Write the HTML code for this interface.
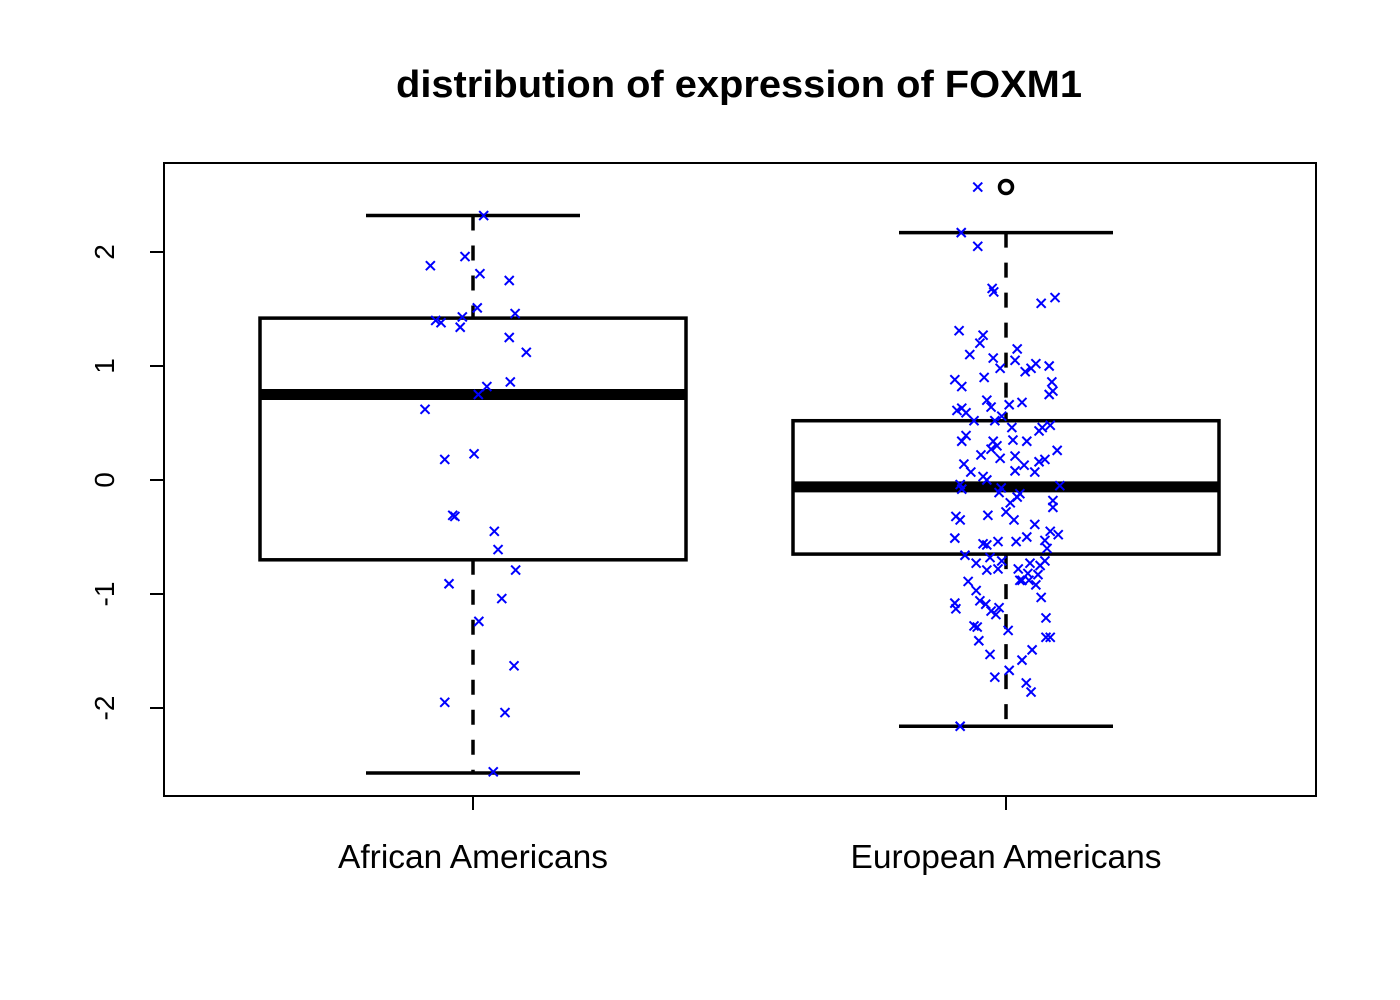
<!DOCTYPE html>
<html><head><meta charset="utf-8"><style>
html,body{margin:0;padding:0;background:#fff;}
svg{display:block;font-family:"Liberation Sans",Arial,sans-serif;}
</style></head><body>
<svg id="chart" width="1400" height="1000" viewBox="0 0 1400 1000">
<text x="739" y="97" text-anchor="middle" font-size="38" font-weight="bold" textLength="686" lengthAdjust="spacingAndGlyphs">distribution of expression of FOXM1</text>
<rect x="164" y="163" width="1152" height="633" fill="none" stroke="#000" stroke-width="2"/>
<g id="marks"></g>
</svg>
<script>
const groups = ["African Americans", "European Americans"];
const yTicks = [-2, -1, 0, 1, 2];
const whiskLo = [-2.57, -2.16];
const q1 = [-0.70, -0.65];
const medians = [0.75, -0.06];
const q3 = [1.42, 0.52];
const whiskHi = [2.32, 2.17];
const outlierGroup = [2];
const outlierVal = [2.57];

const afrY = [2.32,1.88,1.96,1.81,1.75,1.40,1.38,1.34,1.43,1.51,1.46,1.25,1.12,0.82,0.75,0.86,0.62,0.18,0.23,-0.31,-0.32,-0.45,-0.61,-0.79,-0.91,-1.04,-1.24,-1.63,-1.95,-2.04,-2.56];
const afrJ = [0.02,-0.08,-0.015,0.013,0.068,-0.07,-0.06,-0.024,-0.02,0.008,0.079,0.068,0.1,0.026,0.01,0.07,-0.09,-0.053,0.002,-0.038,-0.034,0.04,0.047,0.08,-0.045,0.054,0.011,0.077,-0.053,0.06,0.038];
const eurY = [2.57,2.17,2.05,1.68,1.65,1.60,1.55,1.31,1.27,1.20,1.15,1.10,0.98,1.02,1.00,1.07,1.05,0.95,0.98,0.88,0.82,0.90,0.86,0.78,0.75,0.63,0.61,0.59,0.70,0.64,0.68,0.66,0.56,0.52,0.52,0.48,0.46,0.43,0.46,0.39,0.34,0.34,0.34,0.35,0.30,0.27,0.26,0.18,0.21,0.22,0.19,0.13,0.16,0.07,0.07,0.14,0.08,0.03,0,-0.04,-0.08,-0.07,-0.11,-0.05,-0.12,-0.15,-0.18,-0.24,-0.20,-0.32,-0.35,-0.31,-0.28,-0.35,-0.39,-0.45,-0.48,-0.50,-0.53,-0.51,-0.54,-0.54,-0.56,-0.57,-0.60,-0.66,-0.68,-0.71,-0.73,-0.75,-0.78,-0.71,-0.83,-0.82,-0.88,-0.88,-0.73,-0.79,-0.78,-0.89,-0.92,-1.03,-0.88,-0.97,-1.06,-1.08,-1.13,-1.09,-1.12,-1.18,-1.15,-1.21,-1.29,-1.28,-1.32,-1.41,-1.38,-1.38,-1.53,-1.49,-1.58,-1.67,-1.73,-1.78,-1.86,-2.16];
const eurJ = [-0.053,-0.084,-0.053,-0.026,-0.023,0.092,0.066,-0.088,-0.043,-0.049,0.021,-0.068,-0.011,0.056,0.081,-0.024,0.017,0.036,0.047,-0.096,-0.083,-0.041,0.086,0.088,0.081,-0.083,-0.092,-0.075,-0.036,-0.028,0.03,0.006,-0.008,-0.06,-0.021,0.083,0.068,0.062,0.011,-0.075,-0.083,-0.024,0.039,0.013,-0.017,-0.028,0.096,0.073,0.017,-0.047,-0.011,0.034,0.062,0.054,-0.066,-0.079,0.017,-0.043,-0.036,-0.086,-0.083,-0.009,-0.013,0.101,0.026,0.021,0.088,0.088,0.008,-0.094,-0.086,-0.034,0,0.015,0.054,0.083,0.098,0.039,0.073,-0.096,-0.015,0.019,-0.043,-0.036,0.077,-0.077,-0.03,-0.008,0.045,0.064,0.023,0.073,0.06,0.041,0.043,0.03,-0.056,-0.036,-0.015,-0.071,0.056,0.066,0.026,-0.056,-0.049,-0.096,-0.094,-0.038,-0.013,-0.019,-0.028,0.075,-0.054,-0.06,0.004,-0.051,0.083,0.075,-0.03,0.049,0.03,0.006,-0.021,0.038,0.047,-0.086];

const NS = "http://www.w3.org/2000/svg";
const g = document.getElementById('marks');
function X(v){ return 473 + (v-1)*533; }
function Y(v){ return 480 - v*114; }
function mk(tag, attrs, parent){ const e=document.createElementNS(NS,tag); for(const k in attrs) e.setAttribute(k,attrs[k]); (parent||g).appendChild(e); return e; }

let ax = mk('line',{x1:164,x2:164,y1:Y(yTicks[0]),y2:Y(yTicks[yTicks.length-1]),stroke:'#000','stroke-width':2});


yTicks.forEach(t=>{
  const tk = mk('line',{x1:150,x2:164,y1:Y(t),y2:Y(t),stroke:'#000','stroke-width':2});
  
  
  const tx = mk('text',{x:0,y:0,'font-size':28,'text-anchor':'middle',transform:`translate(114,${Y(t)}) rotate(-90)`});
  tx.textContent = t;
  
  
});
groups.forEach((name,i)=>{
  const cx = X(i+1);
  const tk = mk('line',{x1:cx,x2:cx,y1:796,y2:810,stroke:'#000','stroke-width':2});
  
  
  const tx = mk('text',{x:cx,y:868,'font-size':33.5,'text-anchor':'middle'});
  tx.textContent = name;
  
  
});
const hw = 213, cap = 107;
groups.forEach((name,i)=>{
  const cx = X(i+1);
  const bg = mk('g',{});
  
  
  mk('line',{x1:cx,x2:cx,y1:Y(whiskHi[i]),y2:Y(q3[i]),stroke:'#000','stroke-width':3.5,'stroke-dasharray':'15 15'},bg);
  mk('line',{x1:cx,x2:cx,y1:Y(q1[i]),y2:Y(whiskLo[i]),stroke:'#000','stroke-width':3.5,'stroke-dasharray':'15 15'},bg);
  mk('line',{x1:cx-cap,x2:cx+cap,y1:Y(whiskHi[i]),y2:Y(whiskHi[i]),stroke:'#000','stroke-width':3.5},bg);
  mk('line',{x1:cx-cap,x2:cx+cap,y1:Y(whiskLo[i]),y2:Y(whiskLo[i]),stroke:'#000','stroke-width':3.5},bg);
  mk('rect',{x:cx-hw,y:Y(q3[i]),width:2*hw,height:Y(q1[i])-Y(q3[i]),fill:'#fff',stroke:'#000','stroke-width':3.5},bg);
  mk('line',{x1:cx-hw,x2:cx+hw,y1:Y(medians[i]),y2:Y(medians[i]),stroke:'#000','stroke-width':11},bg);
});
outlierGroup.forEach((gi,k)=>{
  const c = mk('circle',{cx:X(gi),cy:Y(outlierVal[k]),r:6.5,fill:'none',stroke:'#000','stroke-width':3.5});
  
  
});
function pts(ys, js, grp, nm){
  ys.forEach((v,k)=>{
    const px = X(grp + js[k]), py = Y(v), s = 4.5;
    const p = mk('path',{d:`M${px-s},${py-s}L${px+s},${py+s}M${px-s},${py+s}L${px+s},${py-s}`,stroke:'#0000ff','stroke-width':2,fill:'none'});
    
    
  });
}
pts(afrY, afrJ, 1, 'point-african-americans');
pts(eurY, eurJ, 2, 'point-european-americans');
</script>
</body></html>
